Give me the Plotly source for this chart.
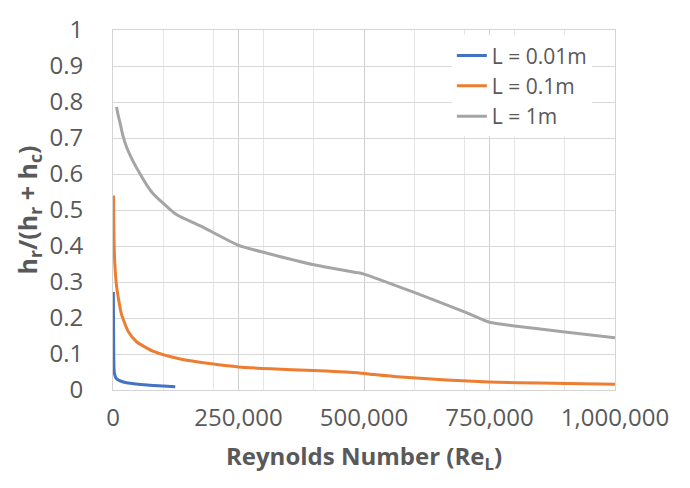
import plotly.graph_objects as go

# ---- data ----
re_001 = [700, 1000, 1500, 2000, 3000, 7000, 15000, 27000, 50000, 74000, 100000, 124000]
h_001 = [0.272, 0.20, 0.10, 0.06, 0.045, 0.031, 0.025, 0.020, 0.016, 0.013, 0.011, 0.009]

re_01 = [1000, 1500, 2000, 3000, 4500, 7000, 10700, 17000, 31000, 47000, 81000, 134000, 200000,
         250000, 313000, 400000, 487000, 520000, 574000, 750000, 904000, 1000000]
h_01 = [0.54, 0.47, 0.42, 0.37, 0.33, 0.29, 0.255, 0.21, 0.161, 0.134, 0.107, 0.086, 0.072,
        0.064, 0.059, 0.054, 0.048, 0.043, 0.036, 0.022, 0.018, 0.016]

re_1 = [7000, 10000, 14000, 20000, 27000, 40000, 54000, 67000, 80000, 107000, 127000, 174000,
        250000, 307000, 400000, 487000, 500000, 600000, 700000, 750000, 800000, 900000, 1000000]
h_1 = [0.786, 0.765, 0.742, 0.705, 0.675, 0.635, 0.60, 0.57, 0.545, 0.51, 0.487, 0.456,
       0.402, 0.38, 0.348, 0.326, 0.322, 0.271, 0.217, 0.188, 0.178, 0.161, 0.145]

series_names = ["L = 0.01m", "L = 0.1m", "L = 1m"]
colors = ["#4472C4", "#ED7D31", "#A5A5A5"]

x_ticks = [0, 250000, 500000, 750000, 1000000]
x_tick_text = ["0", "250,000", "500,000", "750,000", "1,000,000"]
y_ticks = [0, 0.1, 0.2, 0.3, 0.4, 0.5, 0.6, 0.7, 0.8, 0.9, 1]
y_tick_text = ["0", "0.1", "0.2", "0.3", "0.4", "0.5", "0.6", "0.7", "0.8", "0.9", "1"]

FONT = "Open Sans"
TXT = "#595959"

fig = go.Figure()
for xs, ys, name, c in zip([re_001, re_01, re_1], [h_001, h_01, h_1], series_names, colors):
    fig.add_trace(go.Scatter(x=xs, y=ys, mode="lines", name=name,
                             line=dict(color=c, width=3, shape="spline", smoothing=0.6)))

fig.update_layout(
    width=690, height=488,
    margin=dict(l=113, r=75, t=17, b=98),
    paper_bgcolor="white", plot_bgcolor="white",
    font=dict(family=FONT, color=TXT, size=22),
    showlegend=True,
    legend=dict(x=0.675, y=0.985, xanchor="left", yanchor="top",
                bgcolor="rgba(255,255,255,1)", font=dict(family=FONT, size=21, color=TXT),
                tracegroupgap=0, itemwidth=30),
)
fig.update_xaxes(
    range=[0, 1000000], tickvals=x_ticks, ticktext=x_tick_text,
    showgrid=True, gridcolor="#cfcfcf", gridwidth=1,
    minor=dict(dtick=100000, showgrid=True, gridcolor="#e6e6e6", gridwidth=1),
    showline=True, mirror=True, linecolor="#d4d4d4", linewidth=1, zeroline=False,
    ticks="outside", ticklen=6, tickcolor="rgba(0,0,0,0)", ticklabeloverflow="allow",
    tickfont=dict(family=FONT, size=24, color=TXT),
    title=dict(text="<b>Reynolds Number (Re<sub>L</sub>)</b>", standoff=16,
               font=dict(family=FONT, size=24, color=TXT)),
)
fig.update_yaxes(
    range=[0, 1], tickvals=y_ticks, ticktext=y_tick_text,
    showgrid=True, gridcolor="#d9d9d9", gridwidth=1,
    showline=True, mirror=True, linecolor="#d4d4d4", linewidth=1, zeroline=False,
    ticks="outside", ticklen=24, tickcolor="rgba(0,0,0,0)", ticklabeloverflow="allow",
    tickfont=dict(family=FONT, size=24, color=TXT),
    title=dict(text="<b>h<sub>r</sub>/(h<sub>r</sub> + h<sub>c</sub>)</b>", standoff=4,
               font=dict(family=FONT, size=25, color=TXT)),
)

fig.write_html("out.html")
